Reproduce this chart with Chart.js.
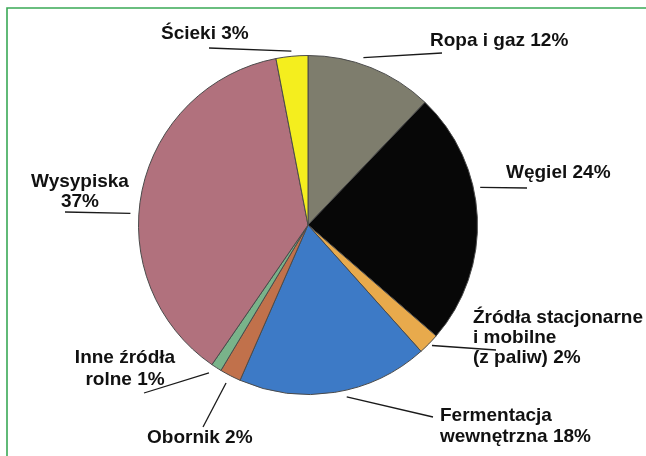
<!DOCTYPE html>
<html>
<head>
<meta charset="utf-8">
<script src="https://cdn.jsdelivr.net/npm/chart.js@4.4.1/dist/chart.umd.min.js"></script>
<style>
  html, body { margin: 0; padding: 0; background: #fff; }
  canvas { display: block; }
</style>
</head>
<body>
<canvas id="methaneChart" width="646" height="456"></canvas>
<script>
// emission sources, clockwise from 12 o'clock
const sources = [
  "Ropa i gaz",
  "Węgiel",
  "Źródła stacjonarne i mobilne (z paliw)",
  "Fermentacja wewnętrzna",
  "Obornik",
  "Inne źródła rolne",
  "Wysypiska",
  "Ścieki",
];
const shares = [12, 24, 2, 18, 2, 1, 37, 3];
const sliceColors = [
  "#7e7d6d", "#070707", "#e8aa4c", "#3d7ac6",
  "#c1714b", "#79b38a", "#b1717d", "#f4ee1e",
];
const labelLines = [
  ["Ropa i gaz 12%"],
  ["Węgiel 24%"],
  ["Źródła stacjonarne", "i mobilne", "(z paliw) 2%"],
  ["Fermentacja", "wewnętrzna 18%"],
  ["Obornik 2%"],
  ["Inne źródła", "rolne 1%"],
  ["Wysypiska", "37%"],
  ["Ścieki 3%"],
];

// where each callout sits: text anchor, leader end, and where on the slice the leader points (t along slice, r factor)
const callouts = [
  { x: 430, y: 46, align: "left", lh: 20, end: [442, 53], t: 0.42, rf: 1.04 },
  { x: 506, y: 178, align: "left", lh: 20, end: [527, 188], t: 0.39, rf: 1.04 },
  { x: 473, y: 323, align: "left", lh: 20, end: [496, 350], t: 0.45, rf: 1.02 },
  { x: 440, y: 421, align: "left", lh: 21, end: [433, 417], t: 0.445, rf: 1.04 },
  { x: 147, y: 443, align: "left", lh: 20, end: [203, 427], t: 0.52, rf: 1.05 },
  { x: 125, y: 363, align: "center", lh: 22, end: [144, 393], t: 0.8, rf: 1.05 },
  { x: 80, y: 187, align: "center", lh: 20, end: [65, 212], t: 0.44, rf: 1.05 },
  { x: 161, y: 39, align: "left", lh: 20, end: [209, 48], t: 0.5, rf: 1.03 },
];

// the picture is cropped: only the top and left edges of the green frame show
const framePlugin = {
  id: "frame",
  beforeDraw(chart) {
    const c = chart.ctx;
    c.save();
    c.fillStyle = "#ffffff";
    c.fillRect(0, 0, chart.width, chart.height);
    c.strokeStyle = "#3aa956";
    c.lineWidth = 1.6;
    c.beginPath();
    c.moveTo(7, chart.height);
    c.lineTo(7, 8);
    c.lineTo(chart.width, 8);
    c.stroke();
    c.restore();
  },
};

const calloutPlugin = {
  id: "callouts",
  afterDatasetsDraw(chart) {
    const c = chart.ctx;
    const arcs = chart.getDatasetMeta(0).data;
    c.save();
    arcs.forEach((arc, i) => {
      const co = callouts[i];
      const a = arc.startAngle + (arc.endAngle - arc.startAngle) * co.t;
      const r = arc.outerRadius * co.rf;
      const px = arc.x + Math.cos(a) * r;
      const py = arc.y + Math.sin(a) * r;

      c.strokeStyle = "#1a1a1a";
      c.lineWidth = 1.3;
      c.beginPath();
      c.moveTo(px, py);
      c.lineTo(co.end[0], co.end[1]);
      c.stroke();

      c.fillStyle = "#111111";
      c.font = "bold 19px 'Liberation Sans', Arial, sans-serif";
      c.textAlign = co.align;
      c.textBaseline = "alphabetic";
      labelLines[i].forEach((line, k) => {
        c.fillText(line, co.x, co.y + k * co.lh);
      });
    });
    c.restore();
  },
};

new Chart(document.getElementById("methaneChart"), {
  type: "pie",
  data: {
    labels: sources,
    datasets: [
      {
        data: shares,
        backgroundColor: sliceColors,
        borderColor: "#4b4b4b",
        borderWidth: 1,
      },
    ],
  },
  options: {
    responsive: false,
    animation: false,
    layout: {
      padding: { left: 138, right: 168, top: 55, bottom: 61 },
    },
    plugins: {
      legend: { display: false },
      tooltip: { enabled: false },
    },
  },
  plugins: [framePlugin, calloutPlugin],
});
</script>
</body>
</html>
